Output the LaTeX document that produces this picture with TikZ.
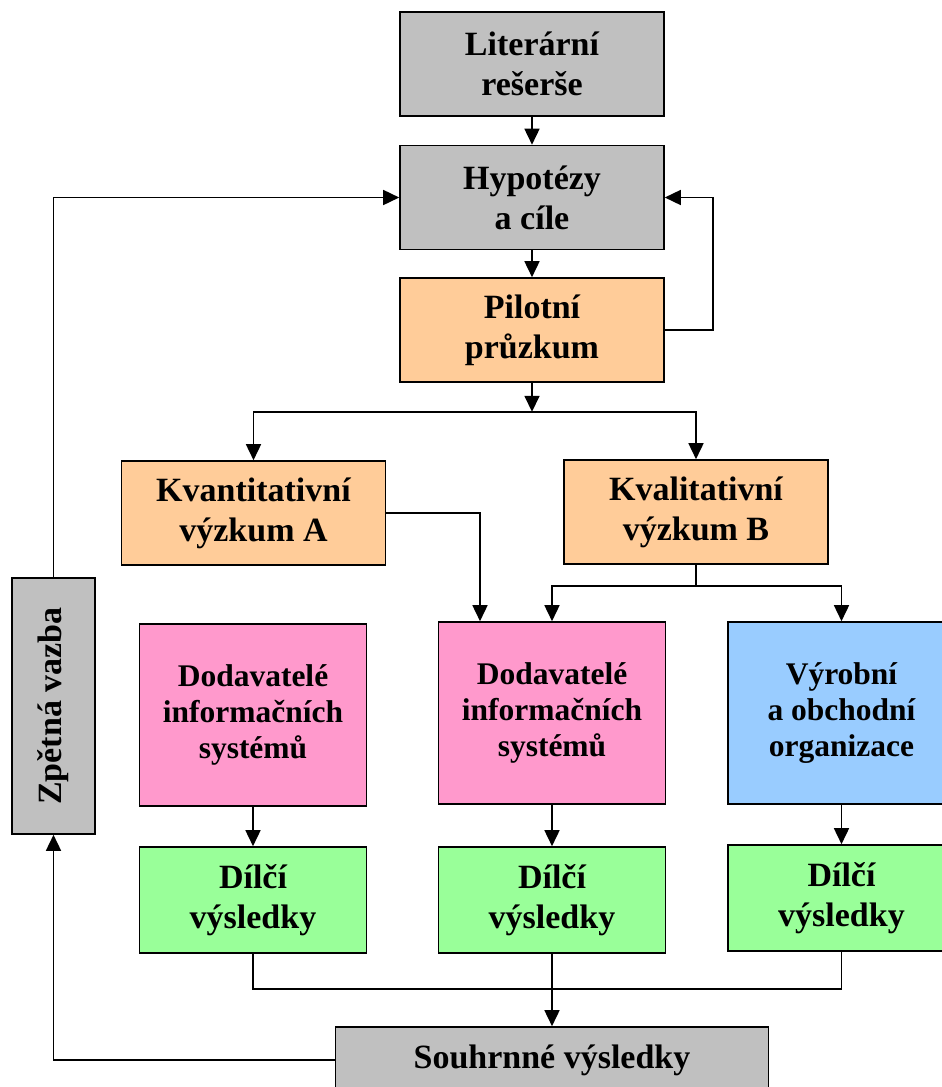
\documentclass[tikz,border=0pt]{standalone}
\usepackage{fontspec}
\setmainfont{Liberation Serif}
\usetikzlibrary{arrows.meta,calc}
\definecolor{cgray}{HTML}{C0C0C0}
\definecolor{corange}{HTML}{FFCC99}
\definecolor{cpink}{HTML}{FF99CC}
\definecolor{cblue}{HTML}{99CCFF}
\definecolor{cgreen}{HTML}{99FF99}
\tikzset{
  box/.style={draw=black, line width=1.6pt, align=center, inner sep=0pt,
    font=\bfseries\fontsize{34}{40}\selectfont},
  bigbox/.style={box, minimum width=264pt, minimum height=104pt},
  tallbox/.style={box, minimum width=227pt, minimum height=182pt,
    font=\bfseries\fontsize{31.5}{36}\selectfont},
  resbox/.style={box, fill=cgreen, minimum width=227pt, minimum height=106pt},
  conn/.style={line width=1.6pt, draw=black},
  arr/.style={conn, -{Triangle[length=16pt,width=15pt]}},
}
\begin{document}
\begin{tikzpicture}[x=1pt,y=-1pt]
\clip (0,0) rectangle (942,1087);
\node[bigbox, fill=cgray] (lit) at (532,64) {Literární\\rešerše};
\node[bigbox, fill=cgray] (hyp) at (532,197.5) {Hypotézy\\a cíle};
\node[bigbox, fill=corange] (pil) at (532,330) {Pilotní\\průzkum};
\node[bigbox, fill=corange] (kvant) at (253.5,513) {Kvantitativní\\výzkum A};
\node[bigbox, fill=corange] (kval) at (696,512) {Kvalitativní\\výzkum B};
\node[tallbox, fill=cpink] (dodA) at (253,715) {Dodavatelé\\informačních\\systémů};
\node[tallbox, fill=cpink] (dodB) at (552,713) {Dodavatelé\\informačních\\systémů};
\node[tallbox, fill=cblue] (vyr) at (841.5,713) {Výrobní\\a obchodní\\organizace};
\node[resbox] (dilA) at (253,900) {Dílčí\\výsledky};
\node[resbox] (dilB) at (552,900) {Dílčí\\výsledky};
\node[resbox] (dilC) at (841.5,898) {Dílčí\\výsledky};
\node[box, fill=cgray, minimum width=433pt, minimum height=66pt] (souhrn) at (552,1060) {Souhrnné výsledky};
\node[box, fill=cgray, minimum width=83pt, minimum height=256pt] (zpet) at (53.5,706) {};
\node[font=\bfseries\fontsize{34}{40}\selectfont, rotate=90] (zpett) at (zpet.center) {Zpětná vazba};
% connectors
\coordinate (j1) at ($(pil.south)+(0,29)$);
\coordinate (j2) at ($(kval.south)+(0,21)$);
\coordinate (j3) at ($(dilA.south)+(0,35)$);
\coordinate (rt) at ($(pil.east)+(48,0)$);
\coordinate (kdrop) at ($(dodB.north)+(-72,0)$);
\draw[arr] (lit) -- (hyp);
\draw[arr] (hyp) -- (pil);
\draw[arr] (pil.east) -- (rt) |- (hyp.east);
\draw[arr] (pil) -- (j1);
\draw[arr] (j1) -| (kvant.north);
\draw[arr] (j1) -| (kval.north);
\draw[arr] (kvant.east) -| (kdrop);
\draw[conn] (kval.south) -- (j2);
\draw[arr] (j2) -| (dodB.north);
\draw[arr] (j2) -| (vyr.north);
\draw[arr] (dodA) -- (dilA);
\draw[arr] (dodB) -- (dilB);
\draw[arr] (vyr) -- (dilC);
\draw[conn] (dilA.south) -- (j3) -| (dilC.south);
\draw[arr] (dilB) -- (souhrn);
\draw[arr] (souhrn.west) -| (zpet.south);
\draw[arr] (zpet.north) |- (hyp.west);
\end{tikzpicture}
\end{document}
